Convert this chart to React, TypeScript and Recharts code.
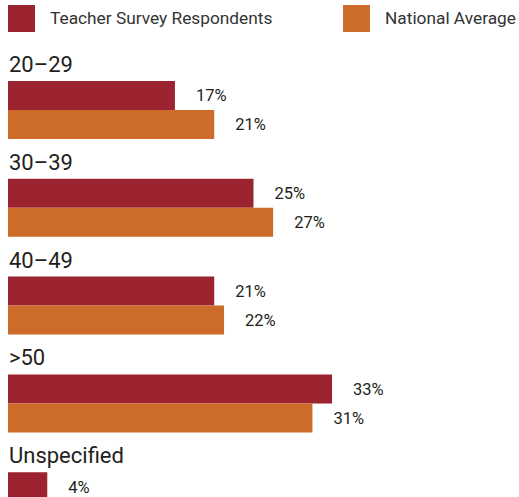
import { Bar, BarChart, LabelList, XAxis, YAxis } from "recharts";

const TEACHER = "#9c2330";
const NATIONAL = "#cd6b2b";
const INK = "#231f20";
const FONT = "Roboto, 'DejaVu Sans', sans-serif";

const categories = ["20–29", "30–39", "40–49", ">50", "Unspecified"];
const teacherValues = [17, 25, 21, 33, 4];
const nationalValues: (number | null)[] = [21, 27, 22, 31, null];

const data = categories.map((name, i) => ({
  name,
  teacher: teacherValues[i],
  national: nationalValues[i],
}));

const pct = (v: unknown) => (v == null ? "" : `${v}%`);

function renderCategoryTick(props: any) {
  const { y, payload } = props;
  return (
    <text key={payload.value} x={9} y={Number(y) - 38} fill={INK} fontSize={22} fontFamily={FONT} textAnchor="start">
      {payload.value}
    </text>
  );
}

function LegendItem({ color, label, left, textLeft }: { color: string; label: string; left: number; textLeft: number }) {
  return (
    <>
      <div style={{ position: "absolute", left, top: 5, width: 27, height: 27, background: color }} />
      <div
        style={{
          position: "absolute",
          left: textLeft,
          top: 6,
          lineHeight: "24px",
          fontSize: 17.3,
          fontFamily: FONT,
          color: "#333",
          whiteSpace: "nowrap",
        }}
      >
        {label}
      </div>
    </>
  );
}

export default function App() {
  return (
    <div style={{ position: "absolute", left: 0, top: 0, width: 519, height: 497, overflow: "hidden", background: "#fff" }}>
      <LegendItem color={TEACHER} label="Teacher Survey Respondents" left={8} textLeft={50} />
      <LegendItem color={NATIONAL} label="National Average" left={343} textLeft={385} />
      <div style={{ position: "absolute", left: 0, top: 0 }}>
        <BarChart
          width={519}
          height={550}
          data={data}
          layout="vertical"
          margin={{ top: 61, right: 20, left: 0, bottom: 0 }}
          barGap={0}
        >
          <XAxis type="number" domain={[0, 50]} hide />
          <YAxis
            type="category"
            dataKey="name"
            width={8}
            axisLine={false}
            tickLine={false}
            tick={renderCategoryTick}
            interval={0}
          />
          <Bar dataKey="teacher" fill={TEACHER} barSize={29} isAnimationActive={false}>
            <LabelList dataKey="teacher" position="right" offset={21} formatter={pct} fill={INK} fontSize={16.5} fontFamily={FONT} />
          </Bar>
          <Bar dataKey="national" fill={NATIONAL} barSize={29} isAnimationActive={false}>
            <LabelList dataKey="national" position="right" offset={21} formatter={pct} fill={INK} fontSize={16.5} fontFamily={FONT} />
          </Bar>
        </BarChart>
      </div>
    </div>
  );
}
